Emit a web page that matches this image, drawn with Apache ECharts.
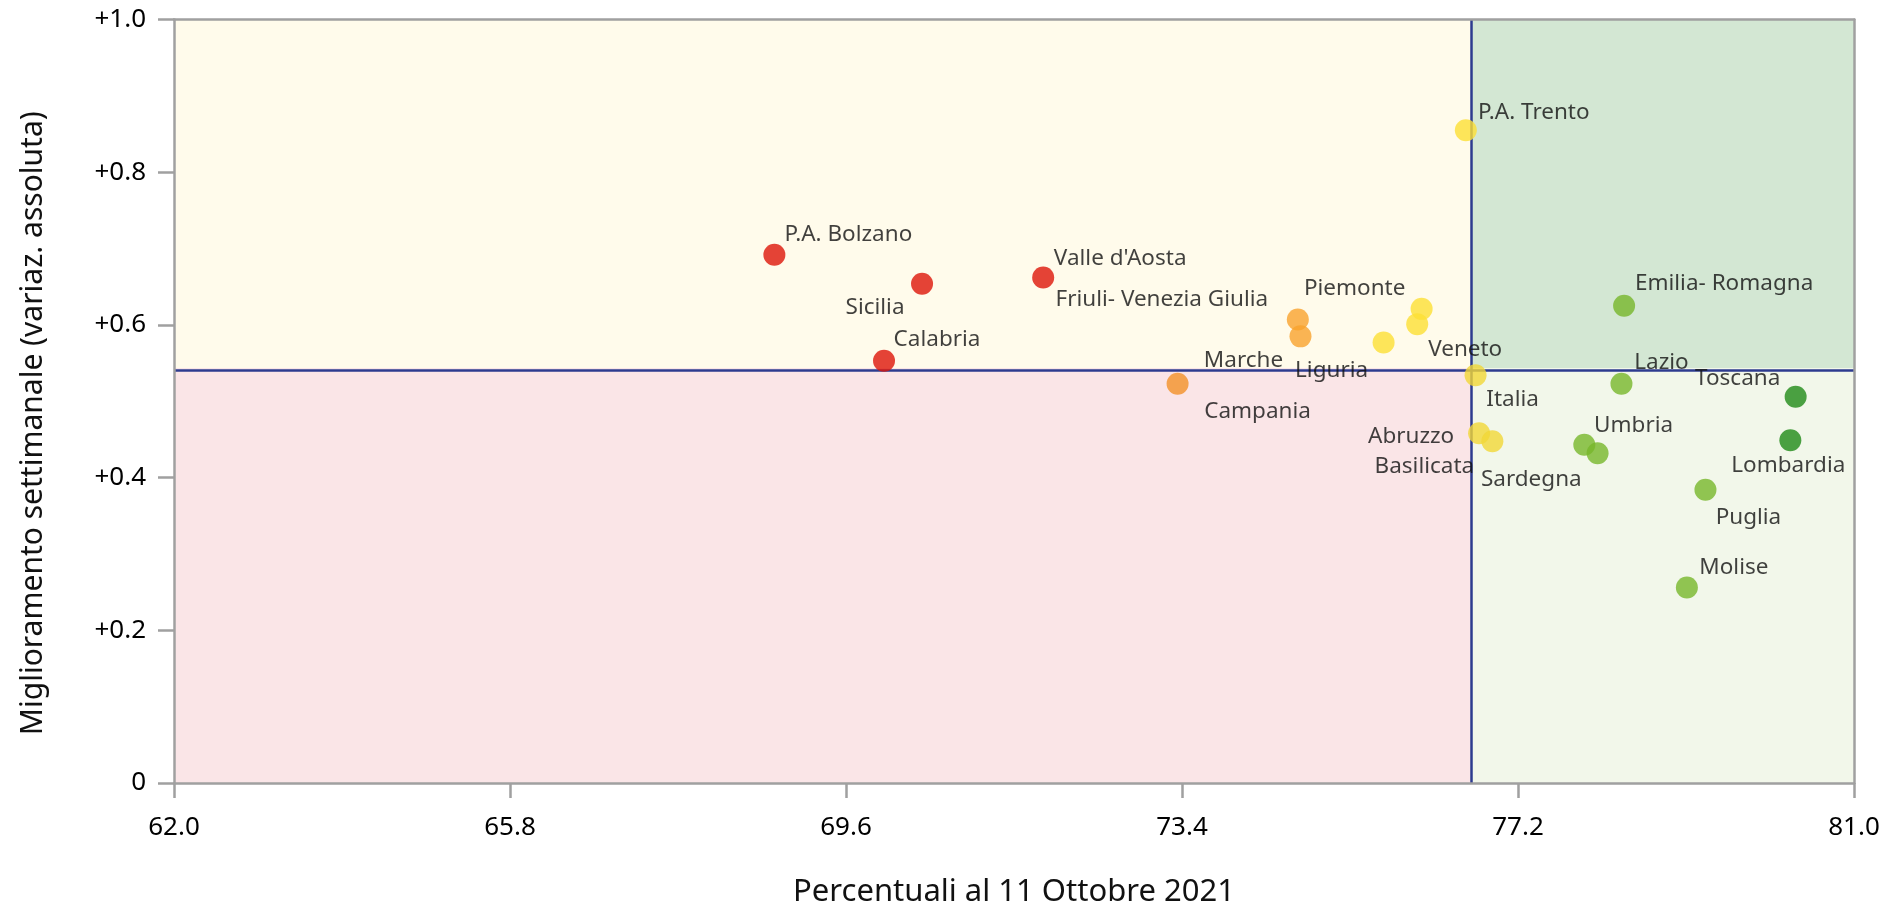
<!DOCTYPE html>
<html>
<head>
<meta charset="utf-8">
<script src="https://cdn.jsdelivr.net/npm/echarts@6/dist/echarts.min.js"></script>
<style>
html,body{margin:0;padding:0;background:#fff;}
#chart{width:1885px;height:913px;}
</style>
</head>
<body>
<div id="chart"></div>
<script>
// ---- data ----
const regions = ["P.A. Bolzano","Sicilia","Calabria","Valle d'Aosta","Campania","Friuli- Venezia Giulia","Marche","Liguria","Veneto","Piemonte","P.A. Trento","Italia","Abruzzo","Basilicata","Sardegna","Umbria","Lazio","Emilia- Romagna","Molise","Puglia","Lombardia","Toscana"];
const pctOct11 = [68.79,70.46,70.03,71.83,73.35,74.71,74.74,75.68,76.06,76.11,76.61,76.72,76.76,76.91,77.95,78.10,78.37,78.40,79.11,79.32,80.28,80.34];
const weeklyGain = [0.692,0.654,0.553,0.662,0.523,0.607,0.585,0.577,0.601,0.621,0.855,0.534,0.458,0.4475,0.443,0.432,0.523,0.625,0.256,0.384,0.449,0.506];
const xRefLine = 76.67;
const yRefLine = 0.5435;
const xTicks = [62.0,65.8,69.6,73.4,77.2,81.0];
const yTicks = [0,0.2,0.4,0.6,0.8,1.0];

// ---- styling (label placement, colours) ----
const labelOffsets = {
  "P.A. Bolzano":[74,-20],"Sicilia":[-47,24],"Calabria":[53,-21],"Valle d'Aosta":[77,-19],
  "Campania":[80,28],"Friuli- Venezia Giulia":[-136,-20],"Marche":[-57,24],"Liguria":[-52,28],
  "Veneto":[48,25],"Piemonte":[-67,-20],"P.A. Trento":[68,-18],"Italia":[37,24],
  "Abruzzo":[-68,3],"Basilicata":[-68,25],"Sardegna":[-53,35],"Umbria":[36,-28],
  "Lazio":[40,-21],"Emilia- Romagna":[100,-22],"Molise":[47,-20],"Puglia":[43,28],
  "Lombardia":[-2,25],"Toscana":[-58,-18]
};
function colorFor(x){
  if (x < 72) return '#dd1509';
  if (x < 74) return '#f39128';
  if (x < 75) return '#f9a22d';
  if (x < 76.65) return '#fde035';
  if (x < 77.5) return '#f1d737';
  if (x < 80) return '#77b62a';
  return '#1f8a16';
}

const points = regions.map((n,i)=>({
  name:n,
  value:[pctOct11[i], weeklyGain[i]],
  itemStyle:{color: colorFor(pctOct11[i])},
  label:{offset: labelOffsets[n] || [0,-20]}
}));

const FONT = '"Noto Sans", "Open Sans", sans-serif';
const axisGray = '#a0a0a0';

const chart = echarts.init(document.getElementById('chart'), null, {renderer:'canvas'});
chart.setOption({
  animation:false,
  backgroundColor:'#ffffff',
  grid:{left:174, right:31, top:19.5, bottom:130, containLabel:false},
  xAxis:[{
    type:'value', min:xTicks[0], max:xTicks[xTicks.length-1], interval:3.8,
    z:10,
    name:'Percentuali al 11 Ottobre 2021', nameLocation:'middle', nameGap:94,
    nameTextStyle:{fontFamily:FONT, fontSize:31, color:'#111'},
    axisLine:{show:true, onZero:false, lineStyle:{color:axisGray, width:2.5}},
    axisTick:{show:true, length:15, lineStyle:{color:axisGray, width:2.5}},
    axisLabel:{fontFamily:FONT, fontSize:26, color:'#000', margin:32, formatter:v=>v.toFixed(1)},
    splitLine:{show:false}
  },{
    type:'value', position:'top', min:xTicks[0], max:xTicks[xTicks.length-1], z:10,
    axisLine:{show:true, onZero:false, lineStyle:{color:axisGray, width:2.5}},
    axisTick:{show:false}, axisLabel:{show:false}, splitLine:{show:false}
  }],
  yAxis:[{
    type:'value', min:yTicks[0], max:yTicks[yTicks.length-1], interval:0.2,
    z:10,
    name:'Miglioramento settimanale (variaz. assoluta)', nameLocation:'middle', nameGap:126,
    nameTextStyle:{fontFamily:FONT, fontSize:30, color:'#111', padding:[0,44,0,0]},
    axisLine:{show:true, onZero:false, lineStyle:{color:axisGray, width:2.5}},
    axisTick:{show:true, length:16, lineStyle:{color:axisGray, width:2.5}},
    axisLabel:{fontFamily:FONT, fontSize:26, color:'#000', margin:28,
      formatter:v=> v===0 ? '0' : '+' + v.toFixed(1)},
    splitLine:{show:false}
  },{
    type:'value', position:'right', min:yTicks[0], max:yTicks[yTicks.length-1], z:10,
    axisLine:{show:true, onZero:false, lineStyle:{color:axisGray, width:2.5}},
    axisTick:{show:false}, axisLabel:{show:false}, splitLine:{show:false}
  }],
  series:[{
    type:'scatter', data:[], z:1, silent:true,
    markArea:{
      silent:true,
      data:[
        [{coord:[xTicks[0], yRefLine], itemStyle:{color:'#fffbeb'}},{coord:[xRefLine, yTicks[yTicks.length-1]]}],
        [{coord:[xRefLine, yRefLine], itemStyle:{color:'#d3e7d3'}},{coord:[xTicks[xTicks.length-1], yTicks[yTicks.length-1]]}],
        [{coord:[xTicks[0], yTicks[0]], itemStyle:{color:'#fae5e7'}},{coord:[xRefLine, yRefLine]}],
        [{coord:[xRefLine, yTicks[0]], itemStyle:{color:'#f2f7ea'}},{coord:[xTicks[xTicks.length-1], yRefLine]}]
      ]
    },
    markLine:{
      silent:true, symbol:['none','none'], label:{show:false},
      lineStyle:{color:'#2d3b8f', width:2.5, type:'solid'},
      data:[{xAxis:xRefLine},{yAxis:yRefLine}]
    }
  },{
    type:'scatter', z:5,
    symbol:'circle', symbolSize:22,
    data:points,
    label:{show:true, position:'inside', align:'center', verticalAlign:'middle',
      formatter:p=>p.name, fontFamily:FONT, fontSize:22.5, color:'#111'},
    emphasis:{disabled:true}
  }]
});
</script>
</body>
</html>
